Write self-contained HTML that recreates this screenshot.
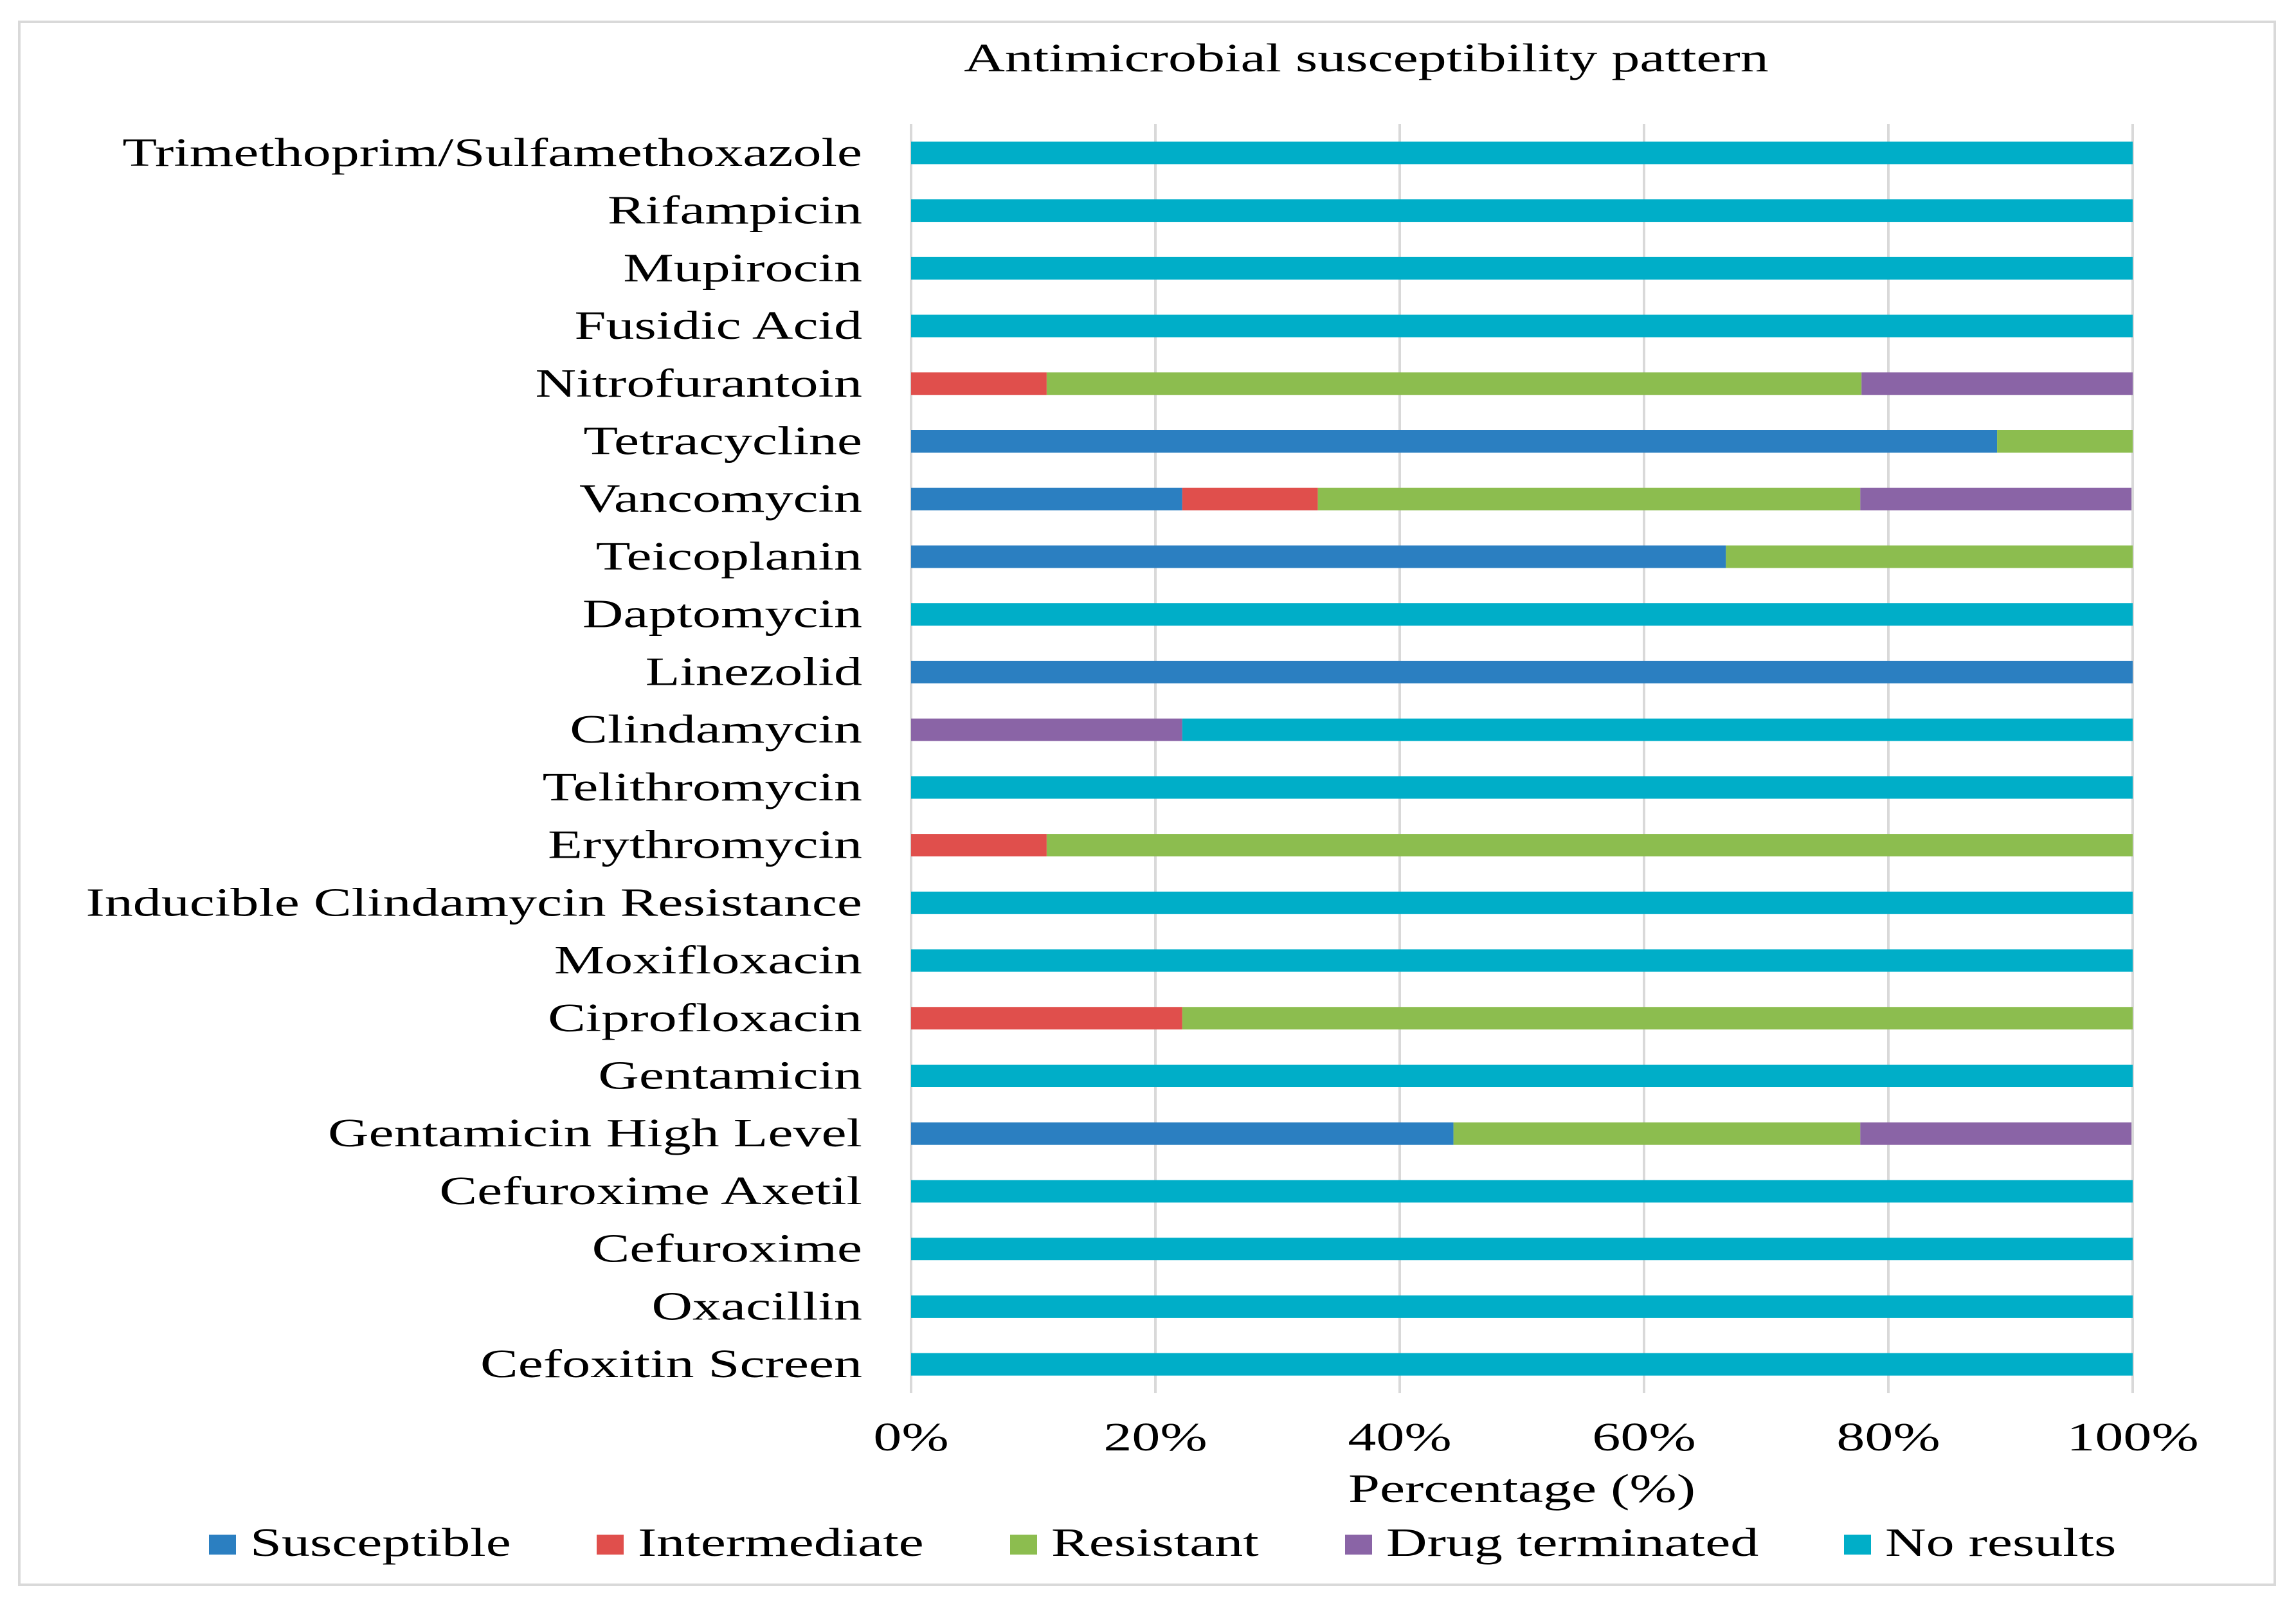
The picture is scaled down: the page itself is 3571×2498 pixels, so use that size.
<!DOCTYPE html>
<html><head><meta charset="utf-8"><style>
html,body{margin:0;padding:0;background:#fff;}
svg{display:block;}
text{font-family:"Liberation Serif","Times New Roman",serif;fill:#000;}
</style></head><body>
<svg id="chart" width="3571" height="2498" viewBox="0 0 3571 2498" xmlns="http://www.w3.org/2000/svg">
<rect x="0" y="0" width="3571" height="2498" fill="#fff"/>
<rect x="30" y="34" width="3508" height="2431" fill="#fff" stroke="#d9d9d9" stroke-width="4"/>
<g id="grid"></g>
<g id="bars"></g>
<g id="labels"></g>
<g id="ticks"></g>
<text transform="translate(2125,111) scale(1.42,1)" text-anchor="middle" font-size="62">Antimicrobial susceptibility pattern</text>
<text transform="translate(2367,2336) scale(1.42,1)" text-anchor="middle" font-size="62">Percentage (%)</text>
<g id="legend"></g>
</svg>
<script>
const categories = ["Trimethoprim/Sulfamethoxazole","Rifampicin","Mupirocin","Fusidic Acid","Nitrofurantoin","Tetracycline","Vancomycin","Teicoplanin","Daptomycin","Linezolid","Clindamycin","Telithromycin","Erythromycin","Inducible Clindamycin Resistance","Moxifloxacin","Ciprofloxacin","Gentamicin","Gentamicin High Level","Cefuroxime Axetil","Cefuroxime","Oxacillin","Cefoxitin Screen"];
const seriesNames = ["Susceptible","Intermediate","Resistant","Drug terminated","No results"];
const susceptible   = [0,0,0,0,0,88.9,22.2,66.7,0,100,0,0,0,0,0,0,0,44.4,0,0,0,0];
const intermediate  = [0,0,0,0,11.1,0,11.1,0,0,0,0,0,11.1,0,0,22.2,0,0,0,0,0,0];
const resistant     = [0,0,0,0,66.7,11.1,44.4,33.3,0,0,0,0,88.9,0,0,77.8,0,33.3,0,0,0,0];
const drugTerminated= [0,0,0,0,22.2,0,22.2,0,0,0,22.2,0,0,0,0,0,0,22.2,0,0,0,0];
const noResults     = [100,100,100,100,0,0,0,0,100,0,77.8,100,0,100,100,0,100,0,100,100,100,100];
const tickValues = [0,20,40,60,80,100];
const tickLabels = ["0%","20%","40%","60%","80%","100%"];

const NS="http://www.w3.org/2000/svg";
const colors=["#2b7fc1","#e04f4c","#8cbd4f","#8a64a6","#00aec8"];
const X0=1417,X1=3317,Y0=193,Y1=2167,BAR_H=35,SX=1.42,FS='62';
const xScale=v=>X0+(X1-X0)*v/100;
const band=(Y1-Y0)/categories.length;
const yCenter=i=>Y0+band*(i+0.5);
function mk(tag,parent){const e=document.createElementNS(NS,tag);parent.appendChild(e);return e;}
const grid=document.getElementById('grid'),bars=document.getElementById('bars'),labels=document.getElementById('labels'),ticks=document.getElementById('ticks'),legend=document.getElementById('legend');
tickValues.forEach((v,i)=>{
  const l=mk('line',grid);
  l.setAttribute('x1',xScale(v));l.setAttribute('x2',xScale(v));l.setAttribute('y1',Y0);l.setAttribute('y2',Y1);
  l.setAttribute('stroke','#d9d9d9');l.setAttribute('stroke-width','4');
  
  
  const t=mk('text',ticks);
  t.setAttribute('transform','translate('+xScale(v)+',2256) scale('+SX+',1)');
  t.setAttribute('text-anchor','middle');t.setAttribute('font-size',FS);
  t.textContent=tickLabels[i];
  
  
});
const series=[susceptible,intermediate,resistant,drugTerminated,noResults];
categories.forEach((c,i)=>{
  const yc=yCenter(i);
  let acc=0;
  series.forEach((s,k)=>{
    const v=s[i];
    if(v>0){
      const r=mk('rect',bars);
      r.setAttribute('x',xScale(acc));r.setAttribute('width',xScale(acc+v)-xScale(acc));
      r.setAttribute('y',yc-BAR_H/2);r.setAttribute('height',BAR_H);r.setAttribute('fill',colors[k]);
      
      
    }
    acc+=v;
  });
  const t=mk('text',labels);
  t.setAttribute('transform','translate(1341,'+(yc+20)+') scale('+SX+',1)');
  t.setAttribute('text-anchor','end');t.setAttribute('font-size',FS);
  t.textContent=c;
  
  
});
const legendSq=[325,928,1571,2092,2868];
seriesNames.forEach((n,k)=>{
  const g=mk('g',legend);
  
  
  const r=mk('rect',g);
  r.setAttribute('x',legendSq[k]);r.setAttribute('y',2387);r.setAttribute('width',42);r.setAttribute('height',31);r.setAttribute('fill',colors[k]);
  
  
  const t=mk('text',g);
  t.setAttribute('transform','translate('+(legendSq[k]+64)+',2420) scale('+SX+',1)');
  t.setAttribute('font-size',FS);
  t.textContent=n;
  
  
});
</script>
</body></html>
